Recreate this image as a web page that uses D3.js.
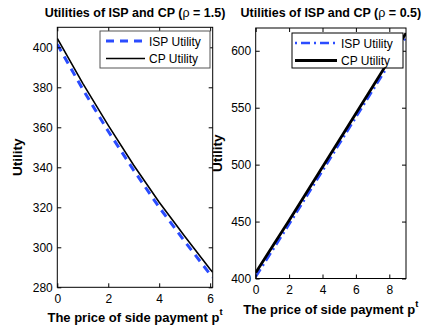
<!DOCTYPE html>
<html>
<head>
<meta charset="utf-8">
<script src="https://cdn.jsdelivr.net/npm/d3@7"></script>
<style>
  body { margin: 0; background: #fff; }
  svg text { font-family: "Liberation Sans", Arial, Helvetica, sans-serif; }
</style>
</head>
<body>
<div id="chart"></div>
<script>
// price of side payment p^t
const leftP = [0, 1, 2, 3, 4, 5, 6, 6.1];
const leftISP = [401.5, 379, 358, 338.5, 320, 303, 286.5, 285];
const leftCP = [404.5, 382, 361, 341, 322.5, 305.5, 289, 287.5];

const rightP = [0, 1, 2, 3, 4, 5, 6, 7, 8, 9];
const rightISP = [401.5, 424.5, 447.5, 471, 494.5, 518, 541.5, 565, 588.5, 612];
const rightCP = [405, 428, 451, 474.5, 498, 521.5, 545, 568.5, 592, 615.5];

const leftXTicks = [0, 2, 4, 6];
const leftYTicks = [280, 300, 320, 340, 360, 380, 400];
const rightXTicks = [0, 2, 4, 6, 8];
const rightYTicks = [400, 450, 500, 550, 600];

const seriesNames = ["ISP Utility", "CP Utility"];
const BLUE = "#2b4cff";

const svg = d3.select("#chart").append("svg")
  .attr("width", 443)
  .attr("height", 330);

function drawPanel(cfg) {
  const x = d3.scaleLinear().domain(cfg.xDomain).range(cfg.xRange);
  const y = d3.scaleLinear().domain(cfg.yDomain).range(cfg.yRange);
  const g = svg.append("g");
  const x0 = cfg.xRange[0], x1 = cfg.xRange[1];
  const y0 = cfg.yRange[1], y1 = cfg.yRange[0];

  // lines, clipped to axes box
  const clipId = "clip" + cfg.id;
  g.append("clipPath").attr("id", clipId)
    .append("rect")
    .attr("x", x0).attr("y", y0)
    .attr("width", x1 - x0).attr("height", y1 - y0);

  const line = d3.line()
    .x(d => x(d[0]))
    .y(d => y(d[1]));

  const plot = g.append("g").attr("clip-path", "url(#" + clipId + ")");
  plot.append("path")
    .datum(cfg.p.map((v, i) => [v, cfg.isp[i]]))
    .attr("fill", "none")
    .attr("stroke", BLUE)
    .attr("stroke-width", cfg.ispWidth)
    .attr("stroke-dasharray", cfg.ispDash)
    .attr("d", line);
  plot.append("path")
    .datum(cfg.p.map((v, i) => [v, cfg.cp[i]]))
    .attr("fill", "none")
    .attr("stroke", "#000")
    .attr("stroke-width", cfg.cpWidth)
    .attr("d", line);

  // axes (matlab style: ticks inward, box on)
  const tickLen = 4;
  const fmt = d => String(d);
  const axB = g.append("g").attr("transform", "translate(0," + y1 + ")")
    .call(d3.axisBottom(x).tickValues(cfg.xTicks).tickFormat(fmt).tickSize(-tickLen).tickPadding(7).tickSizeOuter(0));
  const axT = g.append("g").attr("transform", "translate(0," + y0 + ")")
    .call(d3.axisTop(x).tickValues(cfg.xTicks).tickSize(-tickLen).tickFormat("").tickSizeOuter(0));
  const axL = g.append("g").attr("transform", "translate(" + x0 + ",0)")
    .call(d3.axisLeft(y).tickValues(cfg.yTicks).tickFormat(fmt).tickSize(-tickLen).tickPadding(4.5).tickSizeOuter(0));
  const axR = g.append("g").attr("transform", "translate(" + x1 + ",0)")
    .call(d3.axisRight(y).tickValues(cfg.yTicks).tickSize(-tickLen).tickFormat("").tickSizeOuter(0));
  [axB, axT, axL, axR].forEach(a => {
    a.select(".domain").remove();
    a.selectAll("line").attr("stroke", "#000");
    a.selectAll("text")
      .attr("fill", "#000")
      .style("font-size", "12px")
      .style("font-family", '"Liberation Sans", Arial, sans-serif');
  });
  g.append("rect")
    .attr("x", x0).attr("y", y0)
    .attr("width", x1 - x0).attr("height", y1 - y0)
    .attr("fill", "none")
    .attr("stroke", "#000")
    .attr("stroke-width", 1);

  // title
  const cx = (x0 + x1) / 2;
  const title = g.append("text")
    .attr("x", cx).attr("y", 17)
    .attr("text-anchor", "middle")
    .style("font-size", "12.5px")
    .style("font-weight", "bold");
  title.append("tspan").text("Utilities of ISP and CP (");
  title.append("tspan").style("font-weight", "normal").text("\u03c1");
  title.append("tspan").text(" = " + cfg.rho + ")");

  // x label with superscript
  const xl = g.append("text")
    .attr("x", cx).attr("y", y1 + 35)
    .attr("text-anchor", "middle")
    .style("font-size", "13px")
    .style("font-weight", "bold");
  xl.append("tspan").text("The price of side payment p");
  xl.append("tspan").attr("dy", -7).style("font-size", "9.5px").text("t");

  // y label
  g.append("text")
    .attr("transform", "translate(" + cfg.yLabelX + "," + ((y0 + y1) / 2) + ") rotate(-90)")
    .attr("text-anchor", "middle")
    .style("font-size", "13.5px")
    .style("font-weight", "bold")
    .text("Utility");

  // legend
  const lg = g.append("g");
  lg.append("rect")
    .attr("x", cfg.legend.x).attr("y", cfg.legend.y)
    .attr("width", cfg.legend.w).attr("height", cfg.legend.h)
    .attr("fill", "#fff")
    .attr("stroke", cfg.legend.stroke)
    .attr("stroke-width", 1);
  seriesNames.forEach((name, i) => {
    const ly = cfg.legend.y + 10 + i * 17.5;
    lg.append("line")
      .attr("x1", cfg.legend.x + cfg.legend.l0)
      .attr("x2", cfg.legend.x + cfg.legend.l1)
      .attr("y1", ly).attr("y2", ly)
      .attr("stroke", i === 0 ? BLUE : "#000")
      .attr("stroke-width", i === 0 ? cfg.ispWidth : cfg.cpWidth)
      .attr("stroke-dasharray", i === 0 ? cfg.ispDash : null)
      .attr("stroke-dashoffset", i === 0 ? cfg.legend.dashOffset : null);
    lg.append("text")
      .attr("x", cfg.legend.x + cfg.legend.l1 + 4)
      .attr("y", ly + 4.5)
      .style("font-size", "12px")
      .text(name);
  });
}

drawPanel({
  id: "L", rho: "1.5",
  p: leftP, isp: leftISP, cp: leftCP,
  xDomain: [0, 6.1], yDomain: [280, 410],
  xRange: [57.3, 212.7], yRange: [287.3, 27.3],
  xTicks: leftXTicks, yTicks: leftYTicks,
  ispWidth: 3, ispDash: "8,6", cpWidth: 1.6,
  yLabelX: 22,
  legend: { x: 100, y: 31, w: 110, h: 37, l0: 6, l1: 45, stroke: "#555", dashOffset: 0 }
});

drawPanel({
  id: "R", rho: "0.5",
  p: rightP, isp: rightISP, cp: rightCP,
  xDomain: [0, 9], yDomain: [400, 620],
  xRange: [255.7, 406], yRange: [278.5, 28],
  xTicks: rightXTicks, yTicks: rightYTicks,
  ispWidth: 2.5, ispDash: "9,4,2,4", cpWidth: 2.8,
  yLabelX: 222,
  legend: { x: 292, y: 33, w: 111, h: 35, l0: 3, l1: 45, stroke: "#000", dashOffset: 13 }
});
</script>
</body>
</html>
